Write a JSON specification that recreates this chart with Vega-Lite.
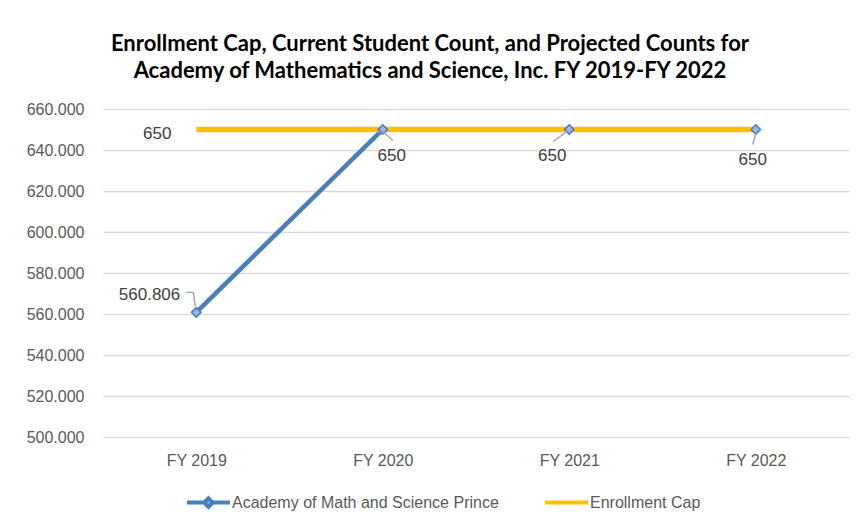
{
  "$schema": "https://vega.github.io/schema/vega-lite/v6.json",
  "width": 746,
  "height": 328,
  "autosize": {"type": "none"},
  "padding": {"left": 103, "top": 109, "right": 10, "bottom": 85},
  "background": "white",
  "config": {"view": {"stroke": null}, "font": "Liberation Sans"},
  "title": {
    "text": ["Enrollment Cap, Current Student Count, and Projected Counts for", "Academy of Mathematics and Science, Inc. FY 2019-FY 2022"],
    "font": "Lato",
    "fontSize": 22,
    "fontWeight": "bold",
    "color": "#000000",
    "anchor": "middle",
    "dx": -46,
    "offset": 18,
    "lineHeight": 27
  },
  "data": {
    "values": [
      {"year": "FY 2019", "series": "Academy of Math and Science Prince", "value": 560.806, "label": "560.806"},
      {"year": "FY 2020", "series": "Academy of Math and Science Prince", "value": 650, "label": "650"},
      {"year": "FY 2021", "series": "Academy of Math and Science Prince", "value": 650, "label": "650"},
      {"year": "FY 2022", "series": "Academy of Math and Science Prince", "value": 650, "label": "650"},
      {"year": "FY 2019", "series": "Enrollment Cap", "value": 650, "label": "650"},
      {"year": "FY 2020", "series": "Enrollment Cap", "value": 650, "label": "650"},
      {"year": "FY 2021", "series": "Enrollment Cap", "value": 650, "label": "650"},
      {"year": "FY 2022", "series": "Enrollment Cap", "value": 650, "label": "650"}
    ]
  },
  "encoding": {
    "x": {
      "field": "year", "type": "ordinal",
      "scale": {"type": "point", "padding": 0.5},
      "axis": {"title": null, "domain": false, "ticks": false, "grid": false, "labelAngle": 0, "labelPadding": 15, "labelFontSize": 16, "labelColor": "#595959"}
    },
    "y": {
      "field": "value", "type": "quantitative",
      "scale": {"domain": [500, 660], "nice": false, "zero": false},
      "axis": {"title": null, "domain": false, "ticks": false, "values": [500, 520, 540, 560, 580, 600, 620, 640, 660], "format": ".3f", "labelPadding": 19, "labelFontSize": 16, "labelColor": "#595959", "gridColor": "#D9D9D9", "gridWidth": 1.3}
    }
  },
  "layer": [
    {
      "transform": [{"filter": "datum.series === 'Academy of Math and Science Prince'"}],
      "mark": {"type": "line", "strokeWidth": 4.5},
      "encoding": {
        "color": {
          "field": "series", "type": "nominal",
          "scale": {"domain": ["Academy of Math and Science Prince", "Enrollment Cap"], "range": ["#4A7EBB", "#FFC000"]},
          "legend": {
            "title": null, "orient": "none", "legendX": 82, "legendY": 370, "direction": "horizontal",
            "labelFont": "Liberation Sans", "labelFontSize": 16, "labelColor": "#595959", "labelLimit": 500,
            "symbolSize": 1849, "symbolStrokeWidth": 4, "labelOffset": 0, "columnPadding": 38,
            "encode": {"symbols": {"update": {
              "shape": {"signal": "datum.value === 'Enrollment Cap' ? 'M-1,0H1M0,-0.2L0,-0.2M0,0.2L0,0.2' : 'M-1,0H-0.2M0.2,0H1M0,-0.2L0.2,0L0,0.2L-0.2,0Z'"},
              "fill": {"signal": "datum.value === 'Enrollment Cap' ? 'transparent' : '#9BB7E0'"}
            }}}
          }
        }
      }
    },
    {
      "transform": [{"filter": "datum.series === 'Enrollment Cap'"}],
      "mark": {"type": "line", "strokeWidth": 5.5},
      "encoding": {"color": {"field": "series", "type": "nominal"}}
    },
    {
      "transform": [{"filter": "datum.series === 'Academy of Math and Science Prince'"}],
      "mark": {"type": "point", "shape": "diamond", "size": 90, "filled": true, "fill": "#9BB7E0", "stroke": "#4A7EBB", "strokeWidth": 1.6, "opacity": 1}
    },
    {
      "transform": [{"filter": "datum.series === 'Academy of Math and Science Prince' && datum.year === 'FY 2019'"}],
      "mark": {"type": "rule", "color": "#A6A6A6", "strokeWidth": 1.5, "xOffset": -10, "x2Offset": -3, "yOffset": -20, "y2Offset": -20},
      "encoding": {"x2": {"field": "year"}, "y2": {"field": "value"}}
    },
    {
      "transform": [{"filter": "datum.series === 'Academy of Math and Science Prince' && datum.year === 'FY 2019'"}],
      "mark": {"type": "rule", "color": "#A6A6A6", "strokeWidth": 1.5, "xOffset": -3, "x2Offset": -1, "yOffset": -20, "y2Offset": -6},
      "encoding": {"x2": {"field": "year"}, "y2": {"field": "value"}}
    },
    {
      "transform": [{"filter": "datum.series === 'Academy of Math and Science Prince' && datum.year === 'FY 2020'"}],
      "mark": {"type": "rule", "color": "#A6A6A6", "strokeWidth": 1.5, "xOffset": -2, "x2Offset": 10, "yOffset": 0, "y2Offset": 11},
      "encoding": {"x2": {"field": "year"}, "y2": {"field": "value"}}
    },
    {
      "transform": [{"filter": "datum.series === 'Academy of Math and Science Prince' && datum.year === 'FY 2021'"}],
      "mark": {"type": "rule", "color": "#A6A6A6", "strokeWidth": 1.5, "xOffset": -16, "x2Offset": -1, "yOffset": 12, "y2Offset": 1},
      "encoding": {"x2": {"field": "year"}, "y2": {"field": "value"}}
    },
    {
      "transform": [{"filter": "datum.series === 'Academy of Math and Science Prince' && datum.year === 'FY 2022'"}],
      "mark": {"type": "rule", "color": "#A6A6A6", "strokeWidth": 1.5, "xOffset": -3, "x2Offset": 0, "yOffset": 15, "y2Offset": 4},
      "encoding": {"x2": {"field": "year"}, "y2": {"field": "value"}}
    },
    {
      "transform": [{"filter": "datum.series === 'Academy of Math and Science Prince' && datum.year === 'FY 2019'"}],
      "mark": {"type": "text", "align": "right", "baseline": "middle", "dx": -16, "dy": -17, "fontSize": 17, "color": "#404040"},
      "encoding": {"text": {"field": "label"}}
    },
    {
      "transform": [{"filter": "datum.series === 'Academy of Math and Science Prince' && datum.year === 'FY 2020'"}],
      "mark": {"type": "text", "align": "center", "baseline": "middle", "dx": 9, "dy": 26, "fontSize": 17, "color": "#404040"},
      "encoding": {"text": {"field": "label"}}
    },
    {
      "transform": [{"filter": "datum.series === 'Academy of Math and Science Prince' && datum.year === 'FY 2021'"}],
      "mark": {"type": "text", "align": "center", "baseline": "middle", "dx": -17, "dy": 26, "fontSize": 17, "color": "#404040"},
      "encoding": {"text": {"field": "label"}}
    },
    {
      "transform": [{"filter": "datum.series === 'Academy of Math and Science Prince' && datum.year === 'FY 2022'"}],
      "mark": {"type": "text", "align": "center", "baseline": "middle", "dx": -3, "dy": 30, "fontSize": 17, "color": "#404040"},
      "encoding": {"text": {"field": "label"}}
    },
    {
      "transform": [{"filter": "datum.series === 'Enrollment Cap' && datum.year === 'FY 2019'"}],
      "mark": {"type": "text", "align": "center", "baseline": "middle", "dx": -39, "dy": 4, "fontSize": 17, "color": "#404040"},
      "encoding": {"text": {"field": "label"}}
    }
  ]
}
